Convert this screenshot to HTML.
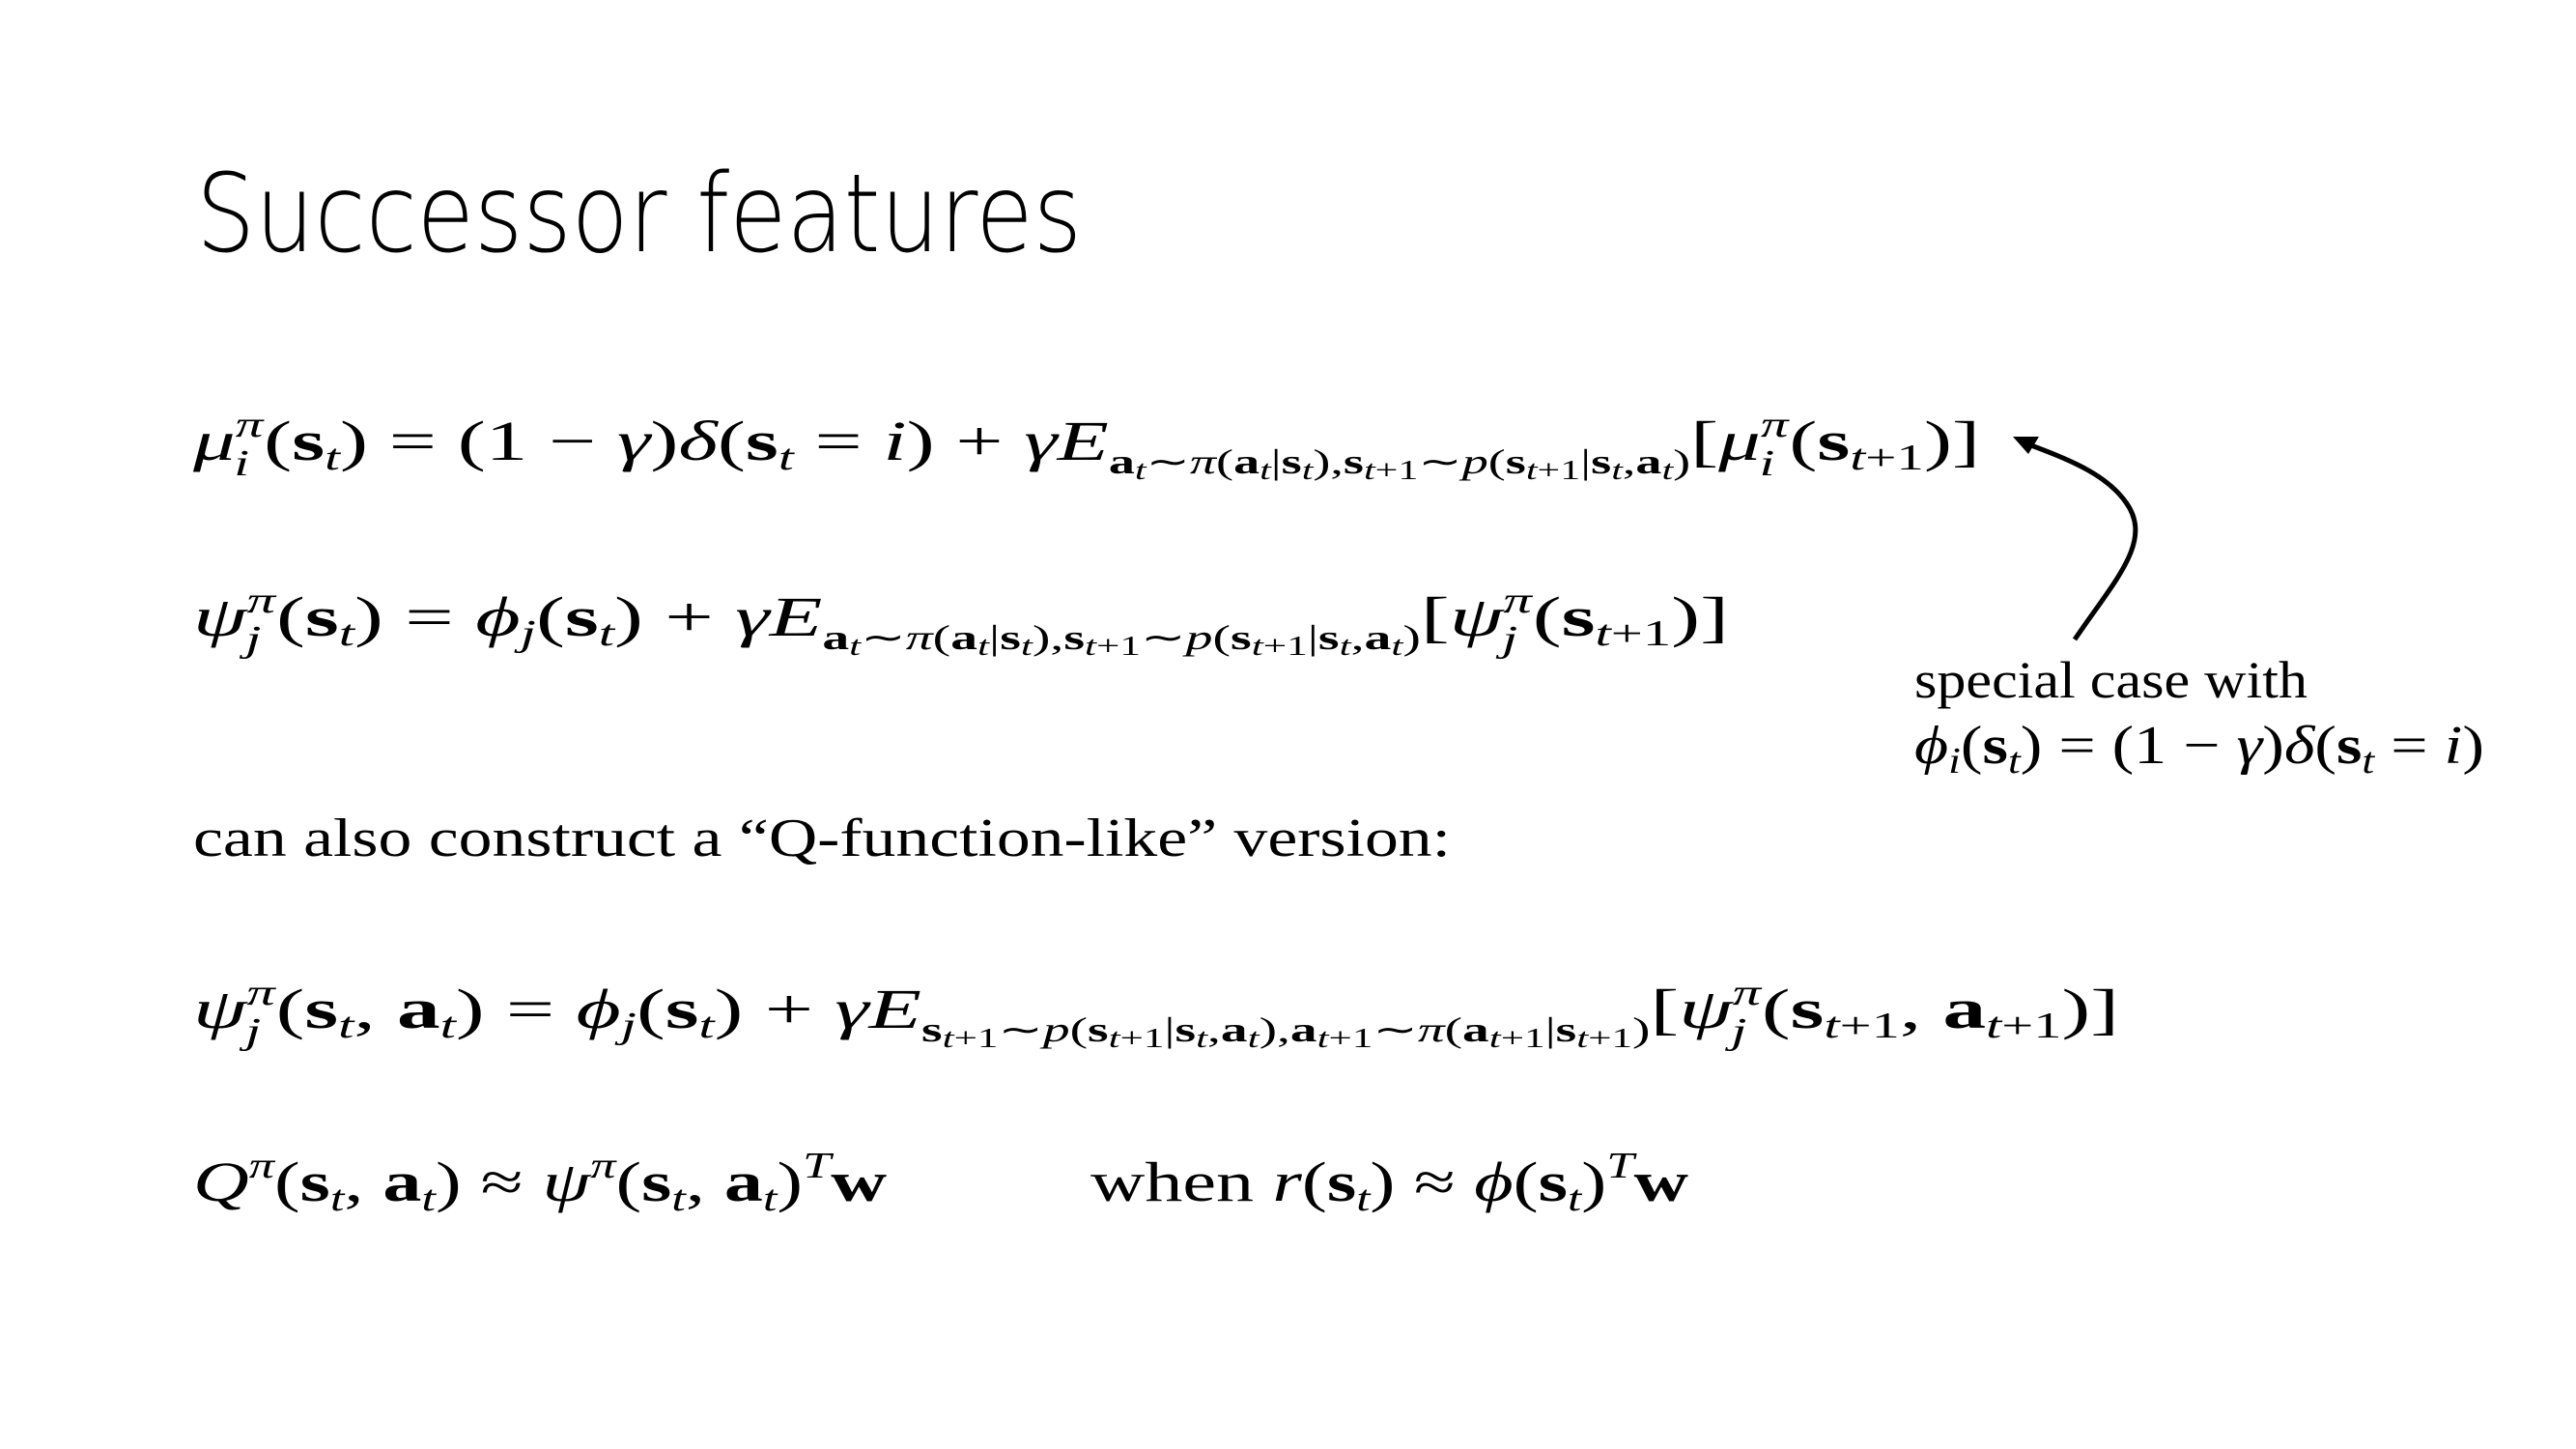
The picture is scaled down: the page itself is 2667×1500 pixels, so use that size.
<!DOCTYPE html>
<html><head><meta charset="utf-8"><style>
html,body{margin:0;padding:0;background:#fff;}
svg{display:block}
text{font-family:"Liberation Serif",serif;fill:#000;}
.i{font-style:italic}
.b{font-weight:bold}
</style></head><body>
<svg width="2667" height="1500" viewBox="0 0 2667 1500" xmlns="http://www.w3.org/2000/svg">
<text x="203" y="260" font-size="112" textLength="917" lengthAdjust="spacingAndGlyphs" style="font-family:'DejaVu Sans','Liberation Sans',sans-serif;font-weight:200">Successor features</text>

<!-- line 1 -->
<text x="200" y="476" font-size="58" textLength="1850" lengthAdjust="spacingAndGlyphs"><tspan class="i">μ</tspan><tspan class="i" font-size="38" dy="-24">π</tspan><tspan class="i" font-size="38" dx="-20" dy="40">i</tspan><tspan dx="10" dy="-16">(</tspan><tspan class="b">s</tspan><tspan class="i" font-size="38" dy="10">t</tspan><tspan dy="-10">) = (1 − </tspan><tspan class="i">γ</tspan><tspan>)</tspan><tspan class="i">δ</tspan><tspan>(</tspan><tspan class="b">s</tspan><tspan class="i" font-size="38" dy="10">t</tspan><tspan dy="-10"> = </tspan><tspan class="i">i</tspan><tspan>) + </tspan><tspan class="i">γE</tspan><tspan class="b" font-size="36" dy="14">a</tspan><tspan class="i" font-size="28" dy="6">t</tspan><tspan font-size="36" dy="-6">∼</tspan><tspan class="i" font-size="36">π</tspan><tspan font-size="36">(</tspan><tspan class="b" font-size="36">a</tspan><tspan class="i" font-size="28" dy="6">t</tspan><tspan font-size="36" dy="-6">|</tspan><tspan class="b" font-size="36">s</tspan><tspan class="i" font-size="28" dy="6">t</tspan><tspan font-size="36" dy="-6">),</tspan><tspan class="b" font-size="36">s</tspan><tspan class="i" font-size="28" dy="6">t</tspan><tspan font-size="28">+1</tspan><tspan font-size="36" dy="-6">∼</tspan><tspan class="i" font-size="36">p</tspan><tspan font-size="36">(</tspan><tspan class="b" font-size="36">s</tspan><tspan class="i" font-size="28" dy="6">t</tspan><tspan font-size="28">+1</tspan><tspan font-size="36" dy="-6">|</tspan><tspan class="b" font-size="36">s</tspan><tspan class="i" font-size="28" dy="6">t</tspan><tspan font-size="36" dy="-6">,</tspan><tspan class="b" font-size="36">a</tspan><tspan class="i" font-size="28" dy="6">t</tspan><tspan font-size="36" dy="-6">)</tspan><tspan dy="-14">[</tspan><tspan class="i">μ</tspan><tspan class="i" font-size="38" dy="-24">π</tspan><tspan class="i" font-size="38" dx="-20" dy="40">i</tspan><tspan dx="10" dy="-16">(</tspan><tspan class="b">s</tspan><tspan class="i" font-size="38" dy="10">t</tspan><tspan font-size="38">+1</tspan><tspan dy="-10">)]</tspan></text>

<!-- line 2 -->
<text x="200" y="658" font-size="58" textLength="1590" lengthAdjust="spacingAndGlyphs"><tspan class="i">ψ</tspan><tspan class="i" font-size="38" dy="-24">π</tspan><tspan class="i" font-size="38" dx="-20" dy="40">j</tspan><tspan dx="10" dy="-16">(</tspan><tspan class="b">s</tspan><tspan class="i" font-size="38" dy="10">t</tspan><tspan dy="-10">) = </tspan><tspan class="i">ϕ</tspan><tspan class="i" font-size="38" dy="10">j</tspan><tspan dy="-10">(</tspan><tspan class="b">s</tspan><tspan class="i" font-size="38" dy="10">t</tspan><tspan dy="-10">) + </tspan><tspan class="i">γE</tspan><tspan class="b" font-size="36" dy="14">a</tspan><tspan class="i" font-size="28" dy="6">t</tspan><tspan font-size="36" dy="-6">∼</tspan><tspan class="i" font-size="36">π</tspan><tspan font-size="36">(</tspan><tspan class="b" font-size="36">a</tspan><tspan class="i" font-size="28" dy="6">t</tspan><tspan font-size="36" dy="-6">|</tspan><tspan class="b" font-size="36">s</tspan><tspan class="i" font-size="28" dy="6">t</tspan><tspan font-size="36" dy="-6">),</tspan><tspan class="b" font-size="36">s</tspan><tspan class="i" font-size="28" dy="6">t</tspan><tspan font-size="28">+1</tspan><tspan font-size="36" dy="-6">∼</tspan><tspan class="i" font-size="36">p</tspan><tspan font-size="36">(</tspan><tspan class="b" font-size="36">s</tspan><tspan class="i" font-size="28" dy="6">t</tspan><tspan font-size="28">+1</tspan><tspan font-size="36" dy="-6">|</tspan><tspan class="b" font-size="36">s</tspan><tspan class="i" font-size="28" dy="6">t</tspan><tspan font-size="36" dy="-6">,</tspan><tspan class="b" font-size="36">a</tspan><tspan class="i" font-size="28" dy="6">t</tspan><tspan font-size="36" dy="-6">)</tspan><tspan dy="-14">[</tspan><tspan class="i">ψ</tspan><tspan class="i" font-size="38" dy="-24">π</tspan><tspan class="i" font-size="38" dx="-20" dy="40">j</tspan><tspan dx="10" dy="-16">(</tspan><tspan class="b">s</tspan><tspan class="i" font-size="38" dy="10">t</tspan><tspan font-size="38">+1</tspan><tspan dy="-10">)]</tspan></text>

<!-- annotation -->
<g transform="translate(-10,0)">
<path d="M2158,662 C2200,600 2240,560 2211,520 C2190,490 2150,475 2105,458" fill="none" stroke="#000" stroke-width="5"/>
<polygon points="2094,452 2121,452 2110,470" fill="#000"/>
</g>
<text x="1982" y="722" font-size="54" textLength="407" lengthAdjust="spacingAndGlyphs">special case with</text>
<text x="1982" y="790" font-size="56" textLength="590" lengthAdjust="spacingAndGlyphs"><tspan class="i">ϕ</tspan><tspan class="i" font-size="38" dy="10">i</tspan><tspan dy="-10">(</tspan><tspan class="b">s</tspan><tspan class="i" font-size="38" dy="10">t</tspan><tspan dy="-10">) = (1 − </tspan><tspan class="i">γ</tspan><tspan>)</tspan><tspan class="i">δ</tspan><tspan>(</tspan><tspan class="b">s</tspan><tspan class="i" font-size="38" dy="10">t</tspan><tspan dy="-10"> = </tspan><tspan class="i">i</tspan><tspan>)</tspan></text>

<!-- line 3 -->
<text x="200" y="886" font-size="56" textLength="1302" lengthAdjust="spacingAndGlyphs">can also construct a “Q-function-like” version:</text>

<!-- line 4 -->
<text x="200" y="1064" font-size="58" textLength="1994" lengthAdjust="spacingAndGlyphs"><tspan class="i">ψ</tspan><tspan class="i" font-size="38" dy="-24">π</tspan><tspan class="i" font-size="38" dx="-20" dy="40">j</tspan><tspan dx="10" dy="-16">(</tspan><tspan class="b">s</tspan><tspan class="i" font-size="38" dy="10">t</tspan><tspan dy="-10">, </tspan><tspan class="b">a</tspan><tspan class="i" font-size="38" dy="10">t</tspan><tspan dy="-10">) = </tspan><tspan class="i">ϕ</tspan><tspan class="i" font-size="38" dy="10">j</tspan><tspan dy="-10">(</tspan><tspan class="b">s</tspan><tspan class="i" font-size="38" dy="10">t</tspan><tspan dy="-10">) + </tspan><tspan class="i">γE</tspan><tspan class="b" font-size="36" dy="14">s</tspan><tspan class="i" font-size="28" dy="6">t</tspan><tspan font-size="28">+1</tspan><tspan font-size="36" dy="-6">∼</tspan><tspan class="i" font-size="36">p</tspan><tspan font-size="36">(</tspan><tspan class="b" font-size="36">s</tspan><tspan class="i" font-size="28" dy="6">t</tspan><tspan font-size="28">+1</tspan><tspan font-size="36" dy="-6">|</tspan><tspan class="b" font-size="36">s</tspan><tspan class="i" font-size="28" dy="6">t</tspan><tspan font-size="36" dy="-6">,</tspan><tspan class="b" font-size="36">a</tspan><tspan class="i" font-size="28" dy="6">t</tspan><tspan font-size="36" dy="-6">),</tspan><tspan class="b" font-size="36">a</tspan><tspan class="i" font-size="28" dy="6">t</tspan><tspan font-size="28">+1</tspan><tspan font-size="36" dy="-6">∼</tspan><tspan class="i" font-size="36">π</tspan><tspan font-size="36">(</tspan><tspan class="b" font-size="36">a</tspan><tspan class="i" font-size="28" dy="6">t</tspan><tspan font-size="28">+1</tspan><tspan font-size="36" dy="-6">|</tspan><tspan class="b" font-size="36">s</tspan><tspan class="i" font-size="28" dy="6">t</tspan><tspan font-size="28">+1</tspan><tspan font-size="36" dy="-6">)</tspan><tspan dy="-14">[</tspan><tspan class="i">ψ</tspan><tspan class="i" font-size="38" dy="-24">π</tspan><tspan class="i" font-size="38" dx="-20" dy="40">j</tspan><tspan dx="10" dy="-16">(</tspan><tspan class="b">s</tspan><tspan class="i" font-size="38" dy="10">t</tspan><tspan font-size="38">+1</tspan><tspan dy="-10">, </tspan><tspan class="b">a</tspan><tspan class="i" font-size="38" dy="10">t</tspan><tspan font-size="38">+1</tspan><tspan dy="-10">)]</tspan></text>

<!-- line 5 -->
<text x="200" y="1243" font-size="58" textLength="718" lengthAdjust="spacingAndGlyphs"><tspan class="i">Q</tspan><tspan class="i" font-size="38" dy="-24">π</tspan><tspan dy="24">(</tspan><tspan class="b">s</tspan><tspan class="i" font-size="38" dy="10">t</tspan><tspan dy="-10">, </tspan><tspan class="b">a</tspan><tspan class="i" font-size="38" dy="10">t</tspan><tspan dy="-10">) ≈ </tspan><tspan class="i">ψ</tspan><tspan class="i" font-size="38" dy="-24">π</tspan><tspan dy="24">(</tspan><tspan class="b">s</tspan><tspan class="i" font-size="38" dy="10">t</tspan><tspan dy="-10">, </tspan><tspan class="b">a</tspan><tspan class="i" font-size="38" dy="10">t</tspan><tspan dy="-10">)</tspan><tspan class="i" font-size="38" dy="-24">T</tspan><tspan class="b" dy="24">w</tspan></text>
<text x="1129" y="1243" font-size="58" textLength="619" lengthAdjust="spacingAndGlyphs"><tspan>when </tspan><tspan class="i">r</tspan><tspan>(</tspan><tspan class="b">s</tspan><tspan class="i" font-size="38" dy="10">t</tspan><tspan dy="-10">) ≈ </tspan><tspan class="i">ϕ</tspan><tspan>(</tspan><tspan class="b">s</tspan><tspan class="i" font-size="38" dy="10">t</tspan><tspan dy="-10">)</tspan><tspan class="i" font-size="38" dy="-24">T</tspan><tspan class="b" dy="24">w</tspan></text>
</svg>
</body></html>
